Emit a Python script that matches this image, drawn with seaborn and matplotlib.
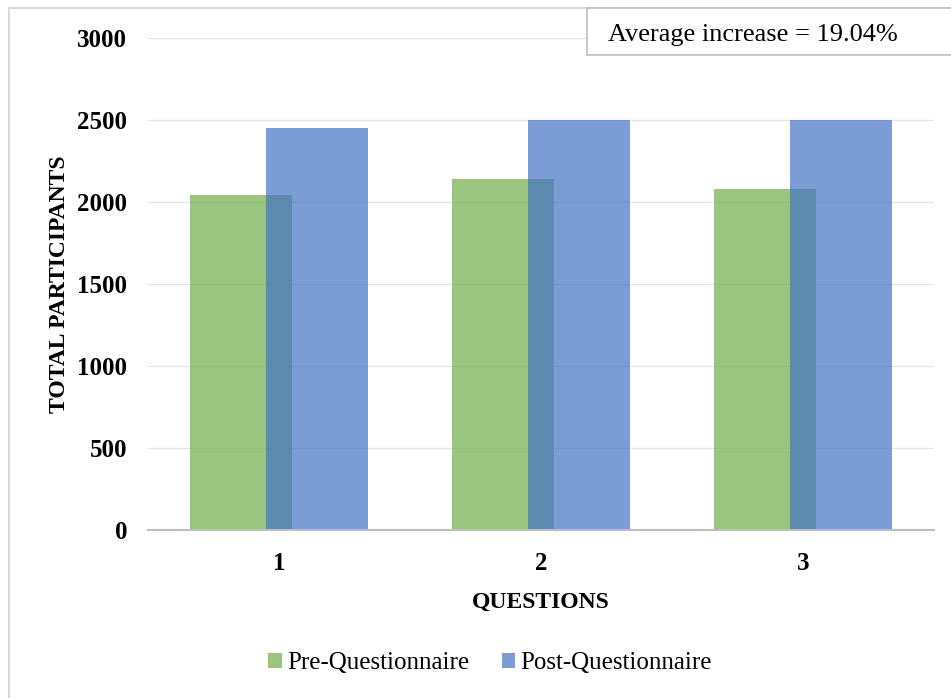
import matplotlib
matplotlib.use("Agg")
import matplotlib.pyplot as plt
from matplotlib.patches import Rectangle
import pandas as pd
import seaborn as sns

# Participants per question, before and after the intervention
questions = ["1", "2", "3"]
pre_questionnaire = [2040, 2140, 2080]
post_questionnaire = [2450, 2500, 2500]
phases = ["Pre-Questionnaire", "Post-Questionnaire"]
y_ticks = [0, 500, 1000, 1500, 2000, 2500, 3000]
note = "Average increase = 19.04%"

df = pd.DataFrame({
    "question": questions * 2,
    "participants": pre_questionnaire + post_questionnaire,
    "phase": [phases[0]] * len(questions) + [phases[1]] * len(questions),
})

sns.set_theme(style="white")
plt.rcParams["font.family"] = ["Liberation Serif", "DejaVu Serif"]
plt.rcParams["text.color"] = "black"

W, H = 951, 698
fig = plt.figure(figsize=(W / 100, H / 100), dpi=100)
ax = fig.add_axes([148 / W, 1 - 530 / H, (934 - 148) / W, (530 - 38) / H])

palette = {phases[0]: "#70AD47", phases[1]: "#4472C4"}
# narrow dodge with widened bars so the pair overlaps
sns.barplot(
    data=df, x="question", y="participants", hue="phase",
    hue_order=phases, order=questions, palette=palette, saturation=1,
    width=0.58, gap=-0.345, alpha=0.7, linewidth=0,
    errorbar=None, ax=ax,
)

ax.set_xlim(-0.5, len(questions) - 0.5)
ax.set_ylim(0, 3000)
ax.set_yticks(y_ticks)
ax.set_yticklabels([str(t) for t in y_ticks])
ax.yaxis.grid(True, color="#E6E6E6", linewidth=1.0)
ax.set_axisbelow(True)
for side in ["top", "right", "left"]:
    ax.spines[side].set_visible(False)
ax.spines["bottom"].set_color("#BFBFBF")
ax.spines["bottom"].set_linewidth(1.5)
ax.tick_params(axis="both", length=0, labelsize=18)
ax.tick_params(axis="y", pad=15)
ax.tick_params(axis="x", pad=16)
for lab in ax.get_xticklabels() + ax.get_yticklabels():
    lab.set_fontweight("bold")
    lab.set_color("black")

ax.set_xlabel("QUESTIONS", fontsize=17, fontweight="bold", labelpad=12, color="black")
ax.set_ylabel("TOTAL PARTICIPANTS", fontsize=17, fontweight="bold", labelpad=5, color="black")

handles, labels = ax.get_legend_handles_labels()
if ax.get_legend() is not None:
    ax.get_legend().remove()
fig.legend(
    handles, labels, loc="center", bbox_to_anchor=(490 / W, 1 - 663 / H),
    ncol=2, frameon=False, fontsize=18, handlelength=0.55, handleheight=0.55,
    handletextpad=0.2, columnspacing=1.3, labelcolor="black",
)

# outer frame of the figure
fig.patches.append(Rectangle(
    (8.5 / W, -0.1), 1.2, 1 - 8.5 / H + 0.1, transform=fig.transFigure,
    fill=False, edgecolor="#D9D9D9", linewidth=1.5, clip_on=False,
))
# note box in the top-right corner
fig.patches.append(Rectangle(
    (587 / W, 1 - 55 / H), 0.5, 47 / H, transform=fig.transFigure,
    facecolor="white", edgecolor="#BFBFBF", linewidth=1.2, clip_on=False,
))
fig.text(608 / W, 1 - 35 / H, note, fontsize=19, va="center", ha="left", color="black")

fig.savefig("out.png", dpi=100)
